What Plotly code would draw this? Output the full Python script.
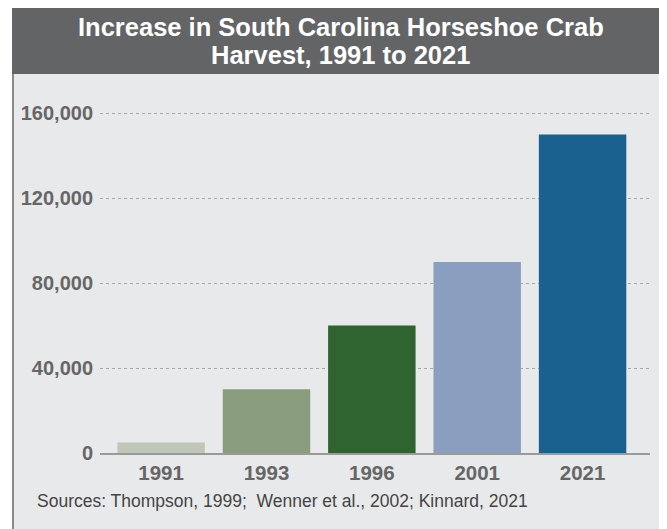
import plotly.graph_objects as go

years = ["1991", "1993", "1996", "2001", "2021"]
harvest = [5000, 30000, 60000, 90000, 150000]
bar_colors = ["#bfc8b8", "#8a9d7c", "#2f6330", "#8a9fbf", "#1a6190"]
y_ticks = [0, 40000, 80000, 120000, 160000]
title_lines = ["Increase in South Carolina Horseshoe Crab", "Harvest, 1991 to 2021"]
source_text = "Sources: Thompson, 1999;  Wenner et al., 2002; Kinnard, 2021"

# page has an 8px body margin; positions below are in page pixels
OFF = 8
W, H = 667 - OFF, 529 - OFF
PL, PR, PT, PB = 100, 650, 92, 453  # plot area in page pixels
ML, MR, MT, MB = PL - OFF, (W + OFF) - PR, PT - OFF, (H + OFF) - PB
PW = W - ML - MR
PH = H - MT - MB
FONT = "Liberation Sans, Arial, sans-serif"


def px(x):
    return (x - PL) / PW


def py(y):
    return (PB - y) / PH


fig = go.Figure()
fig.add_trace(go.Bar(
    x=years, y=harvest, marker=dict(color=bar_colors, line=dict(width=0)),
    hoverinfo="x+y",
))

shapes = [
    dict(type="rect", xref="paper", yref="paper", x0=px(12), x1=px(668), y0=py(OFF), y1=py(74),
         fillcolor="#636466", line=dict(width=0), layer="below"),
    dict(type="rect", xref="paper", yref="paper", x0=px(13), x1=px(665), y0=py(74), y1=py(530),
         fillcolor="#e8e9eb", line=dict(width=0), layer="below"),
    dict(type="line", xref="paper", yref="paper", x0=px(13), x1=px(13), y0=py(74), y1=py(530),
         line=dict(color="#8a8a8a", width=2), layer="below"),
    dict(type="line", xref="paper", yref="paper", x0=px(664.5), x1=px(664.5), y0=py(74), y1=py(530),
         line=dict(color="#555555", width=1.5), layer="below"),
]

annotations = [
    dict(text=title_lines[0], xref="paper", yref="paper", x=px(341), y=py(27),
         xanchor="center", yanchor="middle", showarrow=False,
         font=dict(family=FONT, size=25.5, color="white", weight="bold")),
    dict(text=title_lines[1], xref="paper", yref="paper", x=px(340), y=py(55),
         xanchor="center", yanchor="middle", showarrow=False,
         font=dict(family=FONT, size=25.5, color="white", weight="bold")),
    dict(text=source_text, xref="paper", yref="paper", x=px(35), y=py(501),
         xanchor="left", yanchor="middle", showarrow=False,
         font=dict(family=FONT, size=17.5, color="#444444")),
]

fig.update_layout(
    width=W, height=H,
    margin=dict(l=ML, r=MR, t=MT, b=MB, pad=0),
    paper_bgcolor="white",
    plot_bgcolor="rgba(0,0,0,0)",
    showlegend=False,
    bargap=0.17,
    shapes=shapes,
    annotations=annotations,
    xaxis=dict(
        type="category", range=[-0.58, 4.64],
        showline=True, linecolor="#9a9a9a", linewidth=1.5,
        showgrid=False, ticks="", zeroline=False,
        tickfont=dict(family=FONT, size=20.5, color="#666666", weight="bold"),
        ticklabelstandoff=1,
    ),
    yaxis=dict(
        range=[0, 170000], tickvals=y_ticks, tickformat=",",
        showgrid=True, gridcolor="#a8a8a8", griddash="dot", gridwidth=1,
        zeroline=False, showline=False, ticks="",
        tickfont=dict(family=FONT, size=20, color="#666666", weight="bold"),
        ticklabelstandoff=6,
    ),
)

fig.write_html("out.html")
